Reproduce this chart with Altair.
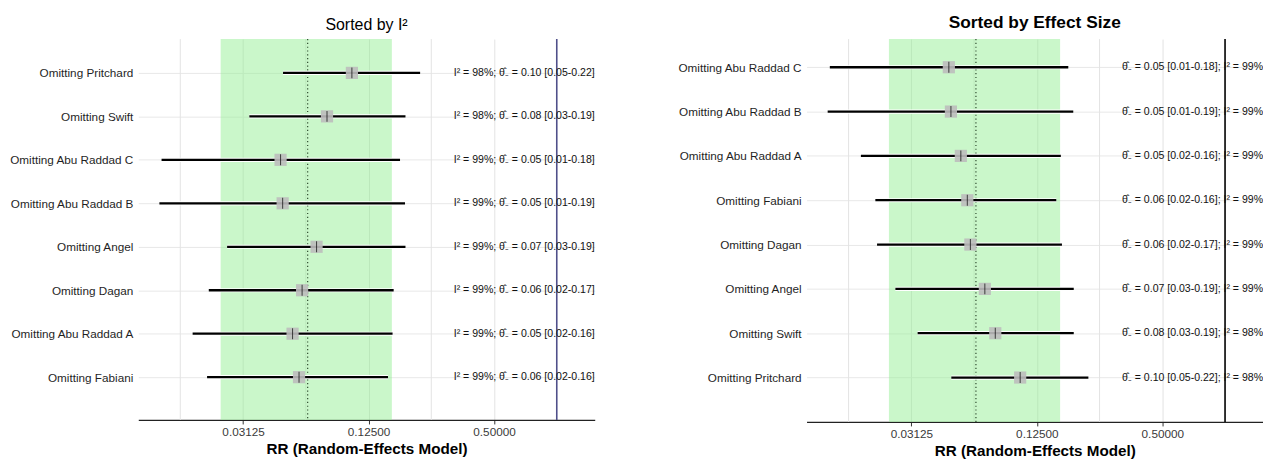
import altair as alt
import pandas as pd

# ---- data ----
studies = ["Omitting Pritchard", "Omitting Swift", "Omitting Abu Raddad C",
           "Omitting Abu Raddad B", "Omitting Angel", "Omitting Dagan",
           "Omitting Abu Raddad A", "Omitting Fabiani"]
i2_pct = [98, 98, 99, 99, 99, 99, 99, 99]
est = [0.104, 0.079, 0.0473, 0.0484, 0.0704, 0.060, 0.054, 0.058]
lower = [0.0486, 0.0335, 0.0127, 0.0124, 0.0262, 0.0214, 0.0179, 0.021]
upper = [0.221, 0.188, 0.177, 0.187, 0.188, 0.165, 0.163, 0.155]
est_lbl = ["0.10", "0.08", "0.05", "0.05", "0.07", "0.06", "0.05", "0.06"]
lo_lbl = ["0.05", "0.03", "0.01", "0.01", "0.03", "0.02", "0.02", "0.02"]
hi_lbl = ["0.22", "0.19", "0.18", "0.19", "0.19", "0.17", "0.16", "0.16"]

order_i2 = list(studies)
order_es = ["Omitting Abu Raddad C", "Omitting Abu Raddad B", "Omitting Abu Raddad A",
            "Omitting Fabiani", "Omitting Dagan", "Omitting Angel",
            "Omitting Swift", "Omitting Pritchard"]

pooled = [0.0638]
band_lo = [0.0244]
band_hi = [0.1617]
null_line = [1.0]
x_domain = [2 ** -6.67, 2 ** 0.605]
major_ticks = [0.03125, 0.125, 0.5]
minor_grid = [0.015625, 0.0625, 0.25]

theta = "\u03b8\u0302\u208b"

df = pd.DataFrame({
    "study": studies, "est": est, "lower": lower, "upper": upper,
    "txt_i2": [f"I\u00b2 = {i}%; {theta} = {e} [{l}-{h}]"
               for i, e, l, h in zip(i2_pct, est_lbl, lo_lbl, hi_lbl)],
    "txt_es": [f"{theta} = {e} [{l}-{h}]; I\u00b2 = {i}%"
               for i, e, l, h in zip(i2_pct, est_lbl, lo_lbl, hi_lbl)],
    "tx": [x_domain[1]] * len(studies),
})
band_df = pd.DataFrame({"lo": band_lo, "hi": band_hi})
pooled_df = pd.DataFrame({"x": pooled})
null_df = pd.DataFrame({"x": null_line})
minor_df = pd.DataFrame({"x": minor_grid})

FONT = "Liberation Sans"
W = 459


def panel(order, txt_col, title, title_size, title_weight, title_offset, h,
          pad, algn, extent, ref_color):
    xs = alt.Scale(type="log", base=2, domain=x_domain, nice=False, zero=False)
    xax = alt.Axis(values=major_ticks, format=".5f", title="RR (Random-Effects Model)",
                   titleFont=FONT, titleFontSize=15.3, titleFontWeight="bold",
                   titleColor="black", titlePadding=3,
                   labelFont=FONT, labelFontSize=11.8, labelColor="#3a3a3a",
                   labelPadding=3, tickSize=4, tickColor="#333333",
                   domainColor="#222222", domainWidth=1.3,
                   grid=True, gridColor="#e3e3e3", gridWidth=1)
    ys = alt.Scale(type="point", padding=pad, align=algn)
    yax = alt.Axis(title=None, domain=False, ticks=False, labelPadding=5.5,
                   labelFont=FONT, labelFontSize=11.8, labelColor="#1f1f1f",
                   grid=True, gridColor="#e8e8e8", gridWidth=1,
                   minExtent=extent, maxExtent=extent)

    minor = alt.Chart(minor_df).mark_rule(color="#e3e3e3", strokeWidth=1).encode(
        x=alt.X("x:Q", scale=xs, axis=xax))
    band = alt.Chart(band_df).mark_rect(color="#90ee90", opacity=0.48).encode(
        x=alt.X("lo:Q", scale=xs), x2="hi:Q", y=alt.value(0), y2=alt.value(h))
    pool = alt.Chart(pooled_df).mark_rule(color="#2e4a2e", strokeWidth=1.2,
                                          strokeDash=[1.2, 2.6]).encode(
        x=alt.X("x:Q", scale=xs))
    ref = alt.Chart(null_df).mark_rule(color=ref_color, strokeWidth=1.6).encode(
        x=alt.X("x:Q", scale=xs))

    base = alt.Chart(df).encode(y=alt.Y("study:N", sort=order, scale=ys, axis=yax))
    ci_w = base.mark_rule(color="white", strokeWidth=4.2).encode(
        x=alt.X("lower:Q", scale=xs), x2="upper:Q")
    ci_b = base.mark_rule(color="black", strokeWidth=2.3).encode(
        x=alt.X("lower:Q", scale=xs), x2="upper:Q")
    sq = base.mark_square(size=150, color="#bdbdbd", opacity=0.9).encode(
        x=alt.X("est:Q", scale=xs))
    tk = base.mark_tick(orient="vertical", color="black", size=11, thickness=1).encode(
        x=alt.X("est:Q", scale=xs))
    txt = base.mark_text(align="right", baseline="middle", font=FONT,
                         fontSize=10.6, color="#111111").encode(
        x=alt.X("tx:Q", scale=xs), text=f"{txt_col}:N")

    return alt.layer(minor, band, pool, ref, ci_w, ci_b, sq, tk, txt).properties(
        width=W, height=h,
        title=alt.TitleParams(title, font=FONT, fontSize=title_size,
                              fontWeight=title_weight, color="black",
                              anchor="middle", offset=title_offset))


left = panel(order_i2, "txt_i2", "Sorted by I\u00b2", 16, "normal", 5.2, 383,
             0.881, 0.4415, 129, "#4f4f8a")
right = panel(order_es, "txt_es", "Sorted by Effect Size", 17.4, "bold", 7.3, 385,
              0.8186, 0.388, 124, "black")

chart = alt.hconcat(left, right, spacing=82,
                    padding={"left": 0, "top": 4, "right": 0, "bottom": 0}
                    ).configure_view(stroke=None)

chart.save("out.html", embed_options={"renderer": "svg", "actions": False})
